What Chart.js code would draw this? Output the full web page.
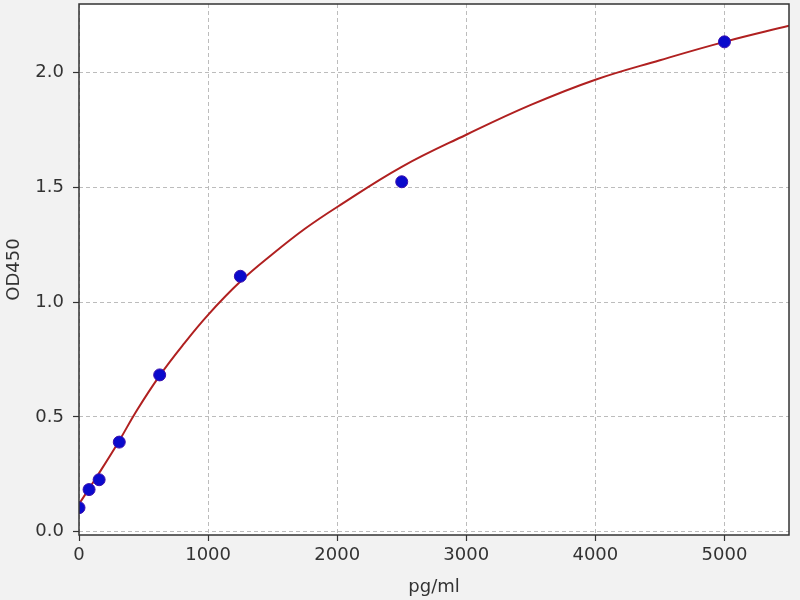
<!DOCTYPE html>
<html>
<head>
<meta charset="utf-8">
<script src="https://cdn.jsdelivr.net/npm/chart.js@4.4.1/dist/chart.umd.min.js"></script>
<style>
  html, body { margin: 0; padding: 0; background: #f2f2f2; }
  #wrap { width: 800px; height: 600px; }
</style>
</head>
<body>
<div id="wrap"><canvas id="curve"></canvas></div>
<script>
// standard points (pg/ml -> OD450)
const stdConc = [0, 78, 156, 312, 625, 1250, 2500, 5000];
const stdOD = [0.104, 0.183, 0.226, 0.39, 0.683, 1.113, 1.525, 2.135];

// fitted curve
const fitConc = [0, 150, 300, 450, 625, 800, 1000, 1250, 1500, 1750, 2000, 2500, 3000, 3500, 4000, 4500, 5000, 5500];
const fitOD = [0.12, 0.25, 0.385, 0.53, 0.68, 0.81, 0.945, 1.09, 1.21, 1.32, 1.415, 1.59, 1.73, 1.86, 1.97, 2.055, 2.135, 2.205];

const xTicks = [0, 1000, 2000, 3000, 4000, 5000];
const yTicks = [0.0, 0.5, 1.0, 1.5, 2.0];

const font = { family: 'DejaVu Sans', size: 18 };

// white plot area + full box frame like matplotlib
const framePlugin = {
  id: 'frame',
  beforeDraw(chart) {
    const { ctx, chartArea: { left, right, top, bottom } } = chart;
    ctx.save();
    ctx.fillStyle = '#ffffff';
    ctx.fillRect(left, top, right - left, bottom - top);
    ctx.restore();
  },
  afterDraw(chart) {
    const { ctx, chartArea: { left, right, top, bottom } } = chart;
    ctx.save();
    ctx.strokeStyle = '#333333';
    ctx.lineWidth = 1.5;
    ctx.strokeRect(left, top, right - left, bottom - top);
    ctx.restore();
  }
};

new Chart(document.getElementById('curve'), {
  type: 'scatter',
  data: {
    datasets: [
      {
        label: 'standards',
        data: stdConc.map((x, i) => ({ x: x, y: stdOD[i] })),
        backgroundColor: '#0a0acc',
        borderColor: '#3a10b0',
        borderWidth: 1,
        pointRadius: 6,
        order: 0
      },
      {
        label: 'fit',
        type: 'line',
        data: fitConc.map((x, i) => ({ x: x, y: fitOD[i] })),
        borderColor: '#b02020',
        borderWidth: 2,
        pointRadius: 0,
        fill: false,
        tension: 0.4,
        order: 1
      }
    ]
  },
  options: {
    responsive: true,
    maintainAspectRatio: false,
    animation: false,
    layout: { autoPadding: false, padding: { top: 4, right: 11, left: 0, bottom: 0 } },
    plugins: { legend: { display: false }, tooltip: { enabled: false } },
    scales: {
      x: {
        type: 'linear',
        min: 0,
        max: 5500,
        afterBuildTicks: s => { s.ticks = xTicks.map(v => ({ value: v })); },
        afterFit: s => { s.height = 65; s.paddingLeft = 0; s.paddingRight = 0; },
        ticks: { color: '#333', font: font, padding: 4, includeBounds: false,
                 callback: v => String(v) },
        grid: { color: '#bcbcbc', lineWidth: 1, tickLength: 6, tickColor: '#333', tickWidth: 1.2 },
        border: { display: false, dash: [4, 3] },
        title: { display: true, text: 'pg/ml', color: '#333', font: font, padding: { top: 0, bottom: 2 } }
      },
      y: {
        type: 'linear',
        min: -0.015,
        max: 2.3,
        afterBuildTicks: s => { s.ticks = yTicks.map(v => ({ value: v })); },
        afterFit: s => { s.width = 79; s.paddingTop = 0; s.paddingBottom = 0; },
        ticks: { color: '#333', font: font, padding: 9, includeBounds: false,
                 callback: v => Number(v).toFixed(1) },
        grid: { color: '#bcbcbc', lineWidth: 1, tickLength: 6, tickColor: '#333', tickWidth: 1.2 },
        border: { display: false, dash: [4, 3] },
        title: { display: true, text: 'OD450', color: '#333', font: font, padding: { top: 4, bottom: 4 } }
      }
    }
  },
  plugins: [framePlugin]
});
</script>
</body>
</html>
